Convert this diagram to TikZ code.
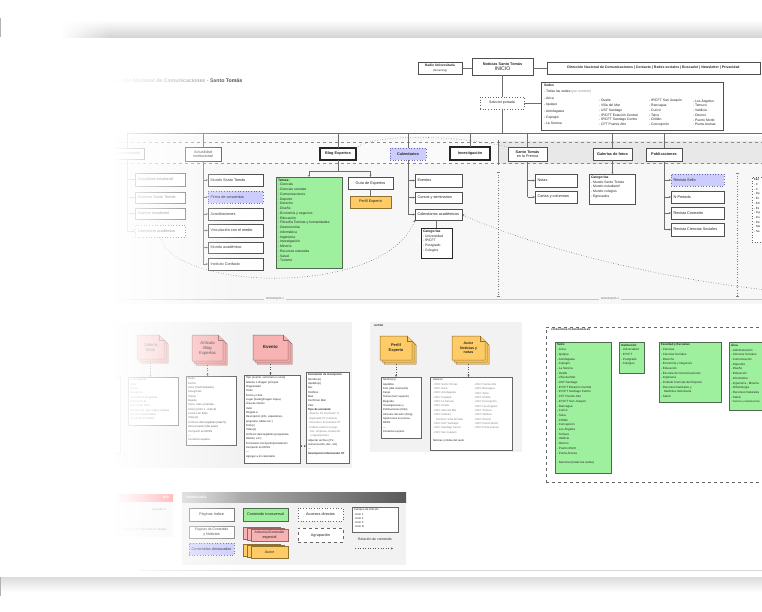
\documentclass[tikz,border=0pt]{standalone}
\usepackage{fontspec}
\setmainfont{Liberation Sans}
\usetikzlibrary{arrows.meta,calc,shadows}
\definecolor{gfill}{HTML}{9EF09E}
\definecolor{gdraw}{HTML}{4F6A4F}
\definecolor{lav}{HTML}{CDCDFD}
\definecolor{lavd}{HTML}{6A6AA8}
\definecolor{org}{HTML}{FFCB66}
\definecolor{orgd}{HTML}{8E7030}
\definecolor{pnk}{HTML}{F7B2B2}
\definecolor{pnkd}{HTML}{9E6464}
\definecolor{bd}{HTML}{505050}
\definecolor{ln}{HTML}{6E6E6E}
\newcommand\fs{\fontsize{3.8}{4.6}\selectfont}
\newcommand\fl{\fontsize{3.4}{4.75}\selectfont}
\newcommand\fm{\fontsize{2.75}{4.35}\selectfont}
\newcommand\fc{\fontsize{3.0}{4.7}\selectfont}
\tikzset{
  every node/.style={inner sep=0pt,outer sep=0pt,font=\fs,text=black!85},
  bxs/.style={draw=bd,fill=white,line width=0.55pt},
  thk/.style={draw=black!85,fill=white,line width=1.1pt},
  grn/.style={draw=gdraw,fill=gfill,line width=0.8pt},
  lavs/.style={draw=lavd,fill=lav,dotted,line width=0.7pt},
  orgs/.style={draw=orgd,fill=org,line width=0.7pt},
  dotb/.style={draw=black!60,fill=white,dotted,line width=0.7pt},
  dshb/.style={draw=black!60,fill=white,dashed,line width=0.7pt},
  shd/.style={draw=black!60,fill=white,line width=0.5pt,drop shadow={shadow xshift=0.8pt,shadow yshift=-0.8pt,opacity=0.3}},
  pstk/.style={draw=pnkd,fill=pnk,line width=0.5pt},
  ostk/.style={draw=orgd,fill=org,line width=0.5pt},
  con/.style={draw=ln,line width=0.5pt},
  arr/.style={con,-{Stealth[length=2.2pt,width=2pt]}},
  rel/.style={draw=black!65,dotted,line width=0.55pt,-{Stealth[length=2.2pt,width=2pt]}},
}
\newcommand\bx[7]{\node[#6,minimum width={(#4-#2)*1pt},minimum height={(#5-#3)*1pt},align=center] (#1) at ({(#2+#4)/2},{(#3+#5)/2}) {#7};}
\newcommand\lb[7]{\bx{#1}{#2}{#3}{#4}{#5}{#6}{}\node[anchor=west] (#1t) at ([xshift=2.5pt]#1.west) {#7};}
\newcommand\ls[8]{\bx{#1}{#2}{#3}{#4}{#5}{#6}{}\node[anchor=north west,align=left,font=#7] (#1t) at ([xshift=2pt,yshift=-1.8pt]#1.north west) {#8};}
\newcommand\dstack[8]{%
  \foreach \k in {4,2,0}{\path[#6] ({#2+\k},{#3+\k}) -- ({#4+\k-5},{#3+\k}) -- ({#4+\k},{#3+\k+5}) -- ({#4+\k},{#5+\k}) -- ({#2+\k},{#5+\k}) -- cycle;}
  \path[#6] ({#4-5},{#3}) -- ({#4-5},{#3+5}) -- ({#4},{#3+5});
  \node[align=center,font=#7,minimum width={(#4-#2)*1pt},minimum height={(#5-#3)*1pt}] (#1) at ({(#2+#4)/2},{(#3+#5)/2}) {#8};}
\newcommand\hstack[7]{%
  \foreach \k in {2,1,0}{\path[#6] ({#2-4*\k},{#3-\k}) rectangle ({#4-4*\k},{#5-\k});}
  \node[align=center,minimum width={(#4-#2)*1pt},minimum height={(#5-#3)*1pt}] (#1) at ({(#2+#4)/2},{(#3+#5)/2}) {#7};}
\begin{document}
\begin{tikzpicture}[x=1pt,y=-1pt]
\useasboundingbox (0,0) rectangle (762,612);
\clip (0,0) rectangle (762,612);
\fill[white] (0,0) rectangle (762,612);

% ---------- title
\node[anchor=west,font=\bfseries\fontsize{5.2}{6}\selectfont,text=black!45] (title) at (108,80.5) {Dirección Nacional de Comunicaciones - \textcolor{black!75}{Santo Tomás}};

% ---------- header
\bx{radio}{418}{62}{462}{74}{bxs}{{\bfseries\fontsize{3.3}{3.8}\selectfont Radio Universitaria}\\{\fontsize{2.7}{3.2}\selectfont (Streaming)}}
\bx{home}{472}{58}{533}{75}{bxs}{{\bfseries Noticias Santo Tomás}\\[0.6pt]{\fontsize{5.2}{5.5}\selectfont INICIO}}
\bx{nav}{547}{62}{760}{74}{bxs}{\bfseries\fontsize{3.5}{4}\selectfont Dirección Nacional de Comunicaciones | Contacto | Redes sociales | Buscador | Newsletter | Privacidad}
\draw[con] (radio.east) -- (home.west |- radio.east);
\draw[con] (home.east |- nav.west) -- (nav.west);
\bx{sel}{480}{97}{524}{109}{dotb}{\fontsize{3.5}{4}\selectfont Selector portada}
\draw[con] (home.south) -- (home.south |- sel.north);
\bx{sedes}{541}{82}{723}{130}{bxs}{}
\draw[con] (sel.east) -- (sedes.west |- sel.east);
\node[anchor=north west,align=left,font=\fontsize{3.4}{6.4}\selectfont] (sc1) at (544,84) {{\bfseries Sedes}\\- Todas las sedes {\color{black!45}(por omisión)}\\- Arica\\- Iquique\\- Antofagasta\\- Copiapó\\- La Serena};
\node[anchor=north west,align=left,font=\fl] (sc2) at (599,99.3) {- Ovalle\\- Viña del Mar\\- UST Santiago\\- IP/CFT Estación Central\\- IP/CFT Santiago Centro\\- CFT Puente Alto};
\node[anchor=north west,align=left,font=\fl] (sc3) at (649,99.3) {- IP/CFT San Joaquín\\- Rancagua\\- Curicó\\- Talca\\- Chillán\\- Concepción};
\node[anchor=north west,align=left,font=\fl] (sc4) at (693,99.3) {- Los Ángeles\\- Temuco\\- Valdivia\\- Osorno\\- Puerto Montt\\- Punta Arenas};

% ---------- hierarchy panel
\fill[black!3] (90,136) rectangle (762,304);
\fill[black!2] (95,141) rectangle (498,164);
\fill[black!9] (498,141) rectangle (762,164);
\draw[black!45,dashed,line width=0.5pt] (95,142) -- (762,142);
\draw[black!45,dashed,line width=0.5pt] (95,163.5) -- (762,163.5);
\draw[black!55,line width=0.6pt] (498,140) -- (498,165);
\draw[black!22,line width=0.4pt] (100,299) -- (762,299);
\node[fill=black!3,inner xsep=2pt,inner ysep=1pt,font=\fontsize{2.8}{3}\selectfont,text=black!55] (j1) at (275,299) {JERARQUÍA 1};
\node[fill=black!3,inner xsep=2pt,inner ysep=1pt,font=\fontsize{2.8}{3}\selectfont,text=black!55] (j2) at (610,299) {JERARQUÍA 2};
\draw[black!50,dotted,line width=0.6pt] (498,172) -- (498,296);
\draw[black!50,line width=0.5pt] (496.5,172) -- (499.5,172) (496.5,296) -- (499.5,296);
\draw[black!50,dotted,line width=0.6pt] (737,173) -- (737,296);
\draw[black!50,line width=0.5pt] (735.5,173) -- (738.5,173) (735.5,296) -- (738.5,296);

\coordinate (busL) at (127,133);
\coordinate (busR) at (762,133);
\draw[con] (busL) -- (busR);
\draw[con] (sel.south) -- (sel.south |- busL);

% level 1
\bx{ve}{110}{148}{144}{159}{bxs}{Vida estudiantil}
\bx{ai}{185}{147}{221}{161}{bxs}{Actualidad\\institucional}
\bx{be}{320}{148}{356}{160}{thk}{\bfseries Blog Expertos}
\bx{cal}{390}{148}{426}{160}{lavs}{\bfseries Calendarios}
\bx{inv}{450}{147}{490}{160}{thk}{\bfseries Investigación}
\bx{pre}{508}{147}{547}{161}{bxs}{\bfseries Santo Tomás\\en la Prensa}
\bx{gal}{593}{148}{632}{160}{bxs}{\bfseries Galerías de fotos}
\bx{pub}{646}{148}{682}{161}{bxs}{\bfseries Publicaciones}
\foreach \n in {ve,ai,be,cal,inv,pre,gal,pub}{\draw[con] (\n.north |- busL) -- (\n.north);}

% vida estudiantil
\lb{ve1}{135}{173}{185}{186}{bxs}{Actualidad estudiantil}
\lb{ve2}{135}{192}{185}{203}{bxs}{Alumnos Santo Tomás}
\lb{ve3}{135}{208}{185}{219}{bxs}{Soporte estudiantil}
\lb{ve4}{135}{225}{185}{237}{dotb}{Calendario académico}
\draw[con] (ve.south) -- (ve.south |- ve4.west);
\foreach \c in {ve1,ve2,ve3,ve4}{\draw[arr] (ve.south |- \c.west) -- (\c.west);}

% actualidad institucional
\lb{ai1}{208}{174}{263}{186}{bxs}{Mundo Santo Tomás}
\lb{ai2}{208}{191}{263}{203}{lavs}{Firma de convenios}
\lb{ai3}{208}{208}{263}{220}{bxs}{Acreditaciones}
\lb{ai4}{208}{224}{263}{237}{bxs}{Vinculación con el medio}
\lb{ai5}{208}{242}{263}{253}{bxs}{Mundo académico}
\lb{ai6}{208}{258}{263}{270}{bxs}{Instituto Confucio}
\draw[con] (ai.south) -- (ai.south |- ai6.west);
\foreach \c in {ai1,ai2,ai3,ai4,ai5,ai6}{\draw[arr] (ai.south |- \c.west) -- (\c.west);}

% blog expertos
\ls{temas}{276}{177}{342}{268}{grn}{\fl}{\textbf{Temas:}\\- Ciencias\\- Ciencias sociales\\- Comunicaciones\\- Deporte\\- Derecho\\- Diseño\\- Economía y negocios\\- Educación\\- Filosofía Tomista y humanidades\\- Gastronomía\\- Informática\\- Ingeniería\\- Investigación\\- Minería\\- Recursos naturales\\- Salud\\- Turismo}
\bx{guia}{348}{177}{393}{189}{bxs}{Guía de Expertos}
\bx{perf}{350}{196}{391}{208}{orgs}{Perfil Experto}
\coordinate (bf) at (338,171);
\draw[con] (be.south) -- (be.south |- bf);
\draw[con] (temas.north |- bf) -- (guia.north |- bf);
\draw[arr] (temas.north |- bf) -- (temas.north);
\draw[arr] (guia.north |- bf) -- (guia.north);
\draw[con] (guia.south) -- (guia.south |- perf.north);

% calendarios
\lb{cev}{415}{174}{462}{187}{bxs}{Eventos}
\lb{ccur}{415}{192}{462}{203}{bxs}{Cursos y seminarios}
\lb{cacad}{415}{209}{462}{220}{bxs}{Calendarios académicos}
\draw[con] (cal.south) -- (cal.south |- cacad.west);
\foreach \c in {cev,ccur,cacad}{\draw[arr] (cal.south |- \c.west) -- (\c.west);}
\ls{catg}{421}{228}{452}{258}{thk,line width=0.9pt}{\fl}{\textbf{Categorías}\\- Universidad\\- IP/CFT\\- Postgrado\\- Colegios}
\draw[con] (catg.north |- cacad.south) -- (catg.north);

% prensa
\lb{pn1}{535}{174}{577}{187}{bxs}{Notas}
\lb{pn2}{535}{191}{577}{203}{bxs}{Cartas y columnas}
\draw[con] (pre.south) -- (pre.south |- pn2.west);
\foreach \c in {pn1,pn2}{\draw[arr] (pre.south |- \c.west) -- (\c.west);}

% galerias
\ls{galc}{589}{174}{635}{204}{bxs,line width=0.8pt}{\fl}{\textbf{Categorías}\\- Mundo Santo Tomás\\- Mundo estudiantil\\- Mundo colegios\\- Egresados}
\draw[arr] (gal.south) -- (gal.south |- galc.north);

% publicaciones
\lb{pb1}{671}{174}{724}{186}{lavs}{Revista Sello}
\lb{pb2}{671}{191}{724}{203}{bxs}{N-Portada}
\lb{pb3}{671}{207}{724}{219}{bxs}{Revista Conexión}
\lb{pb4}{671}{223}{724}{236}{bxs}{Revista Ciencias Sociales}
\draw[con] (pub.south) -- (pub.south |- pb4.west);
\foreach \c in {pb1,pb2,pb3,pb4}{\draw[arr] (pub.south |- \c.west) -- (\c.west);}

% partial box at right edge (only its left part is in the picture)
\ls{rfac}{752}{177}{800}{242}{dotb}{\fc}{\textbf{Fac}\\- C\\- C\\- De\\- Ec\\- Ed\\- Es\\- Ing\\- Ins\\- Re\\\hspace*{2pt}Me\\- Sa}

% relation curves
\draw[draw=black!55,dotted,line width=0.55pt] (be.north east) .. controls (372,134) and (450,134) .. (pre.north west);
\draw[rel] (ve4.south) .. controls (175,292) and (385,297) .. (cacad.south west);
\draw[rel] (800,293) .. controls (680,284) and (540,250) .. (cacad.east);

% ---------- content types
\fill[black!5] (40,322) rectangle (352,468);
\fill[black!5] (370,322) rectangle (522,452);
\bx{hid}{62}{377}{120}{453}{shd}{}

\dstack{gs}{137}{335}{164}{359}{pstk}{\fontsize{4.2}{5}\selectfont}{Galería\\fotos}
\ls{gl}{128}{377}{178}{425}{shd}{\fm}{Título galería\\Autor\\Fecha\\Categoría\\Descripción de galería\\Fotos (mín 6)\\Lectura de fotos\\Galerías rel. (por sede y temas)\\Noticias relacionadas\\Compartir en RRSS}
\draw[rel] ([yshift=-4pt]gs.south) -- (gs.south |- gl.north);

\dstack{as}{192}{335}{223}{361}{pstk}{\fontsize{4.2}{5}\selectfont}{Artículo\\Blog\\Expertos}
\ls{al}{186}{376}{236}{445}{shd}{\fm}{Título\\Fecha\\Autor (Perfil Experto)\\Categorías\\Temas\\Bajada\\Texto, citas y fuentes\\Foto(s) (mín 1 - máx 3)\\Lectura de fotos\\Video(s)\\Archivos descargables (máx 5)\\Relacionados (del autor)\\Compartir en RRSS\\---\\Contactar experto}
\draw[rel] ([yshift=-4pt]as.south) -- (as.south |- al.north);

\dstack{es}{253}{335}{288}{360}{pstk}{\bfseries\fontsize{4.4}{5}\selectfont}{Evento}
\ls{el}{244}{375}{300}{463}{shd}{\fm}{Tipo (evento, seminario o curso)\\Galería o Imagen principal\\Organizador\\Título\\Fecha y Hora\\Lugar (Sede)(Imagen mapa)\\Área de interés\\Valor\\Dirigido a\\Descripción (info, expositores,\\programa, tablas etc.)\\Foto(s)\\Video(s)\\Archivos descargables (programas,\\folletos, etc.)\\Formulario inscripción/postulación\\Compartir en RRSS\\---\\Agregar a mi calendario}
\draw[rel] ([yshift=-4pt]es.south) -- (es.south |- el.north);

\ls{fl}{306}{372}{349}{463}{shd}{\fm}{\textbf{Formulario de inscripción}\\Nombre(s)\\Apellido(s)\\Rut\\Teléfono\\Mail\\Confirmar Mail\\País\\\textbf{Tipo de asistente:}\\{\color{black!50}- Alumno ST (carrera/s ?)}\\{\color{black!50}- Egresado ST (carrera)}\\{\color{black!50}- Docente o funcionario ST}\\{\color{black!50}- Público externo (cargo,}\\{\color{black!50}\hspace*{2pt}inst. empresa, institución}\\{\color{black!50}\hspace*{2pt}u organización)}\\Adjuntar archivo (CV,\\comunicación, doc. etc)\\---\\\textbf{Suscripción información ST}}
\coordinate (yf) at (0,446);
\draw[rel,{Stealth[length=2pt,width=1.8pt]}-{Stealth[length=2pt,width=1.8pt]}] (el.east |- yf) -- (fl.west |- yf);

% autor
\node[anchor=north west,font=\bfseries\fontsize{2.6}{3}\selectfont] (autorlbl) at (374,324.5) {AUTOR};
\dstack{ps}{380}{336}{412}{360}{ostk}{\bfseries\fontsize{3.9}{4.6}\selectfont}{Perfil\\Experto}
\dstack{ans}{452}{336}{485}{360}{ostk}{\bfseries\fontsize{3.6}{4.3}\selectfont}{Autor\\Noticias y\\notas}
\ls{pl}{381}{377}{421}{438}{shd}{\fontsize{2.7}{4.3}\selectfont}{Nombre(s)\\Apellidos\\Foto (alta resolución)\\Cargo\\Temas (ítem superior)\\Biografía\\Investigaciones y\\Publicaciones (links)\\Artículos del autor (blog)\\Apariciones en prensa\\RRSS\\---\\Contactar experto}
\draw[rel] ([yshift=-4pt]ps.south) -- (ps.south |- pl.north);
\bx{anl}{430}{377}{512}{450}{shd}{}
\node[anchor=north west,align=left,font=\fm,text=black!50] (anl1) at (433,379) {{\color{black!85}Autores:}\\- DNC Santo Tomás\\- DEC Arica\\- DEC Antofagasta\\- DEC Copiapó\\- DEC La Serena\\- DEC Ovalle\\- DEC Viña del Mar\\- DEC Instituto\\\hspace*{3pt}Confucio Viña del Mar\\- DEC UST Santiago\\- DEC Santiago Centro\\- DEC San Joaquín};
\node[anchor=north west,align=left,font=\fm,text=black!50] (anl2) at (474,383.35) {- DEC Puente Alto\\- DEC Rancagua\\- DEC Talca\\- DEC Chillán\\- DEC Concepción\\- DEC Los Ángeles\\- DEC Temuco\\- DEC Valdivia\\- DEC Osorno\\- DEC Puerto Montt\\- DEC Punta Arenas};
\node[anchor=north west,font=\fm] (anl3) at (433,440) {Noticias y Notas del autor};
\draw[rel] ([yshift=-4pt]ans.south) -- (ans.south |- anl.north);

% ---------- categorias transversales
\bx{ctb}{546}{327}{800}{482}{dshb}{}
\node[anchor=north west,font=\bfseries\fontsize{2.5}{3}\selectfont] (ctl) at (551,328.5) {CATEGORÍAS TRANSVERSALES};
\ls{cs}{555}{342}{611}{473}{grn}{\fc}{\textbf{Sede:}\\- Arica\\- Iquique\\- Antofagasta\\- Copiapó\\- La Serena\\- Ovalle\\- Viña del Mar\\- UST Santiago\\- IP/CFT Estación Central\\- IP/CFT Santiago Centro\\- CFT Puente Alto\\- IP/CFT San Joaquín\\- Rancagua\\- Curicó\\- Talca\\- Chillán\\- Concepción\\- Los Ángeles\\- Temuco\\- Valdivia\\- Osorno\\- Puerto Montt\\- Punta Arenas\\[4.7pt]- Nacional (todas las sedes)}
\ls{ci}{619}{342}{644}{373}{grn}{\fc}{\textbf{Institución:}\\- Universidad\\- IP/CFT\\- Postgrado\\- Colegios}
\ls{cf}{659}{342}{721}{402}{grn}{\fc}{\textbf{Facultad y Escuelas}\\- Ciencias\\- Ciencias Sociales\\- Derecho\\- Economía y Negocios\\- Educación\\- Escuela de Comunicaciones\\- Ingeniería\\- Instituto Ciencias del Deporte\\- Recursos Naturales y\\\hspace*{3pt}Medicina Veterinaria\\- Salud}
\ls{ca}{729}{342}{800}{410}{grn}{\fc}{\textbf{Área}\\- Administración\\- Ciencias Sociales\\- Comunicación\\- Deportes\\- Diseño\\- Educación\\- Informática\\- Ingeniería - Minería\\- Odontología\\- Recursos Naturales\\- Salud\\{\fontsize{2.6}{4.7}\selectfont - Turismo y Gastronomía}}

% ---------- IDA block
\fill[black!4] (0,501) rectangle (173,537);
\shade[left color=white,right color=red!55] (0,494) rectangle (173,501.5);
\node[anchor=east,font=\bfseries\fontsize{3.4}{4}\selectfont,text=white] (ida) at (169,497.8) {IDA};
\node[anchor=east,font=\fontsize{3}{3.5}\selectfont,text=black!60] (idaw) at (166,509) {www.ida.cl};
\node[anchor=east,font=\fontsize{3}{3.5}\selectfont,text=black!60] (idan) at (166,530) {Pablo Araos | Maximiliano Nadal};

% ---------- legend
\fill[black!5] (182,502) rectangle (406,565);
\shade[left color=black!22,right color=black!65] (182,492) rectangle (406,502);
\node[anchor=west,font=\bfseries\fontsize{3.2}{3.5}\selectfont,text=white] (simb) at (186,497) {SIMBOLOGÍA};
\bx{lg1}{189}{508}{234}{521}{thk,draw=black!55,line width=1pt}{Páginas índice}
\bx{lg2}{189}{526}{234}{538}{bxs,draw=black!45}{\fontsize{3.4}{4}\selectfont Páginas de Contenido\\y Noticias}
\bx{lg3}{189}{543}{234}{555}{lavs}{Contenidos destacados}
\bx{lg4}{243}{508}{288}{521}{grn}{Contenido transversal}
\hstack{lg5}{251}{529}{288}{541}{pstk}{\fontsize{3.4}{4}\selectfont Artículos/Contenido\\especial}
\hstack{lg6}{251}{546}{288}{558}{ostk}{Autor}
\bx{lg7}{298}{508}{343}{521}{dotb}{Accesos directos}
\bx{lg8}{298}{528}{343}{542}{dshb}{Agrupación}
\ls{lg9}{352}{507}{398}{532}{shd}{\fontsize{2.8}{4.2}\selectfont}{Campos de Artículo\\- Item 1\\- Item 2\\- Item 3\\- Item N}
\node[font=\fontsize{3.4}{4}\selectfont] (lg10) at (375,539.5) {Relación de contenido};
\coordinate (ra) at (355,548.5);
\coordinate (rb) at (393,548.5);
\draw[rel] (ra) -- (rb);
\draw[black!15,line width=0.5pt] (140,570) -- (762,570);

% ---------- left fade
\foreach \i in {0,...,121}{\pgfmathsetmacro\op{min(1,max(0,(242-2*\i)/130))}\fill[white,opacity=\op] ({2*\i},0) rectangle ({2*\i+2},612);}

% ---------- page shadows
\shade[top color=white,bottom color=black!17] (60,20) rectangle (762,37.5);
\foreach \i in {0,...,24}{\pgfmathsetmacro\op{1-\i/25}\fill[white,opacity=\op] ({60+2*\i},19) rectangle ({62+2*\i},38);}
\shade[top color=black!14,bottom color=white] (0,577) rectangle (762,592);
\fill[black!30] (0,18) rectangle (1.2,37);
\fill[black!30] (0,577) rectangle (1.2,596);
\end{tikzpicture}
\end{document}
